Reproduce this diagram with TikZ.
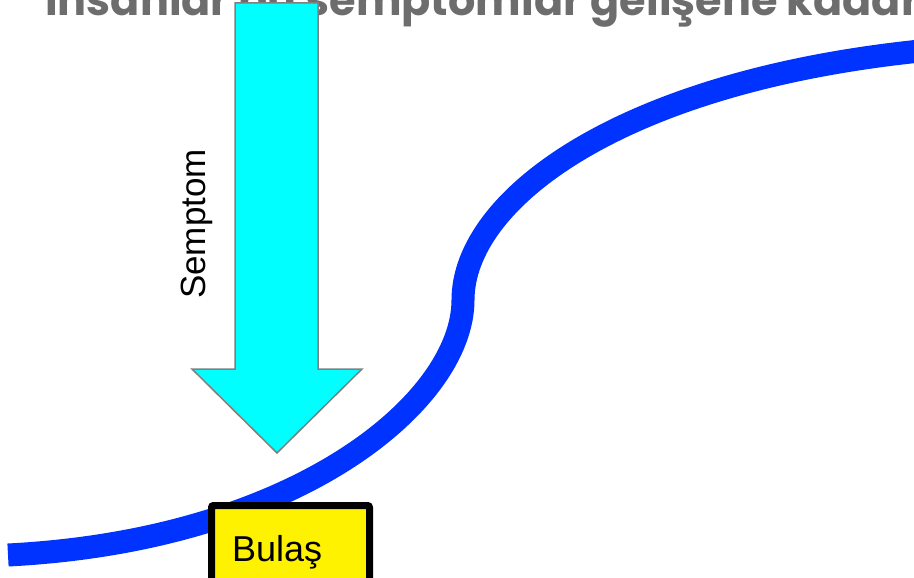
\documentclass[tikz,border=0pt]{standalone}
\usepackage{fontspec}
\setmainfont{Liberation Sans}
\newfontfamily\titlefont{Poppins}
\definecolor{curveblue}{HTML}{0033FF}
\definecolor{titlegray}{HTML}{6D6D6D}
\definecolor{arrowgray}{HTML}{7F7F7F}
\definecolor{arrowcyan}{HTML}{00FFFF}
\tikzset{
  titletext/.style={anchor=base west, inner sep=0pt, text=titlegray,
    font=\titlefont\bfseries\fontsize{43}{43}\selectfont},
  casebox/.style={draw=black, line width=7pt, fill=yellow, rounded corners=2pt,
    minimum width=158pt, minimum height=85pt, inner xsep=20.5pt,
    text width=117pt, align=left, text depth=0pt,
    font=\fontsize{36}{36}\selectfont}
}
\begin{document}
\begin{tikzpicture}[x=1pt,y=-1pt]
    \useasboundingbox (0,0) rectangle (914,578);
    \node[titletext] (title) at (45,16) {İnsanlar bu semptomlar gelişene kadar};
    \draw[curveblue, line width=23pt] (8,555) .. controls (300,540) and (463,400) .. (463,300)
      .. controls (463,200) and (620,80) .. (930,50);
    \draw[arrowgray, fill=arrowcyan, line width=1.5pt] (235,3) -- (318,3) -- (318,369) -- (362,369)
      -- (277,453) -- (192,369) -- (235,369) -- cycle;
    \node[rotate=90, anchor=base, font=\fontsize{35}{35}\selectfont] (symptom) at (205,224) {Semptom};
    \node[casebox] (contact) at (290.5,548) {Bulaş};
\end{tikzpicture}
\end{document}
